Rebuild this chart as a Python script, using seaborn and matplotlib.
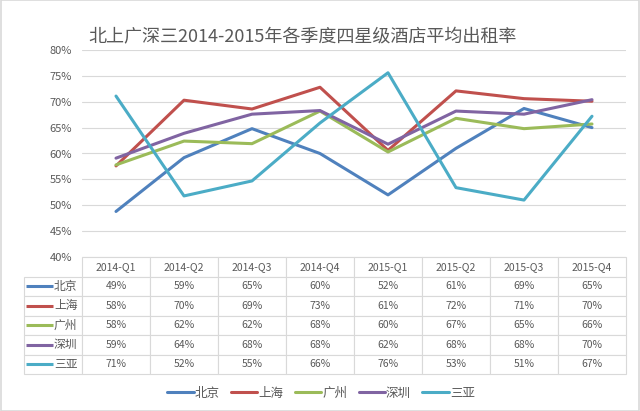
import numpy as np
import pandas as pd
import seaborn as sns
import matplotlib.pyplot as plt
from matplotlib.patches import Rectangle

# data (line positions; table shows rounded values)
quarters = ["2014-Q1", "2014-Q2", "2014-Q3", "2014-Q4", "2015-Q1", "2015-Q2", "2015-Q3", "2015-Q4"]
cities = ["北京", "上海", "广州", "深圳", "三亚"]
beijing = [48.8, 59.2, 64.8, 60.0, 52.0, 61.0, 68.7, 65.0]
shanghai = [57.6, 70.3, 68.6, 72.8, 60.6, 72.1, 70.6, 70.1]
guangzhou = [57.8, 62.4, 61.9, 68.2, 60.3, 66.8, 64.8, 65.7]
shenzhen = [59.1, 63.9, 67.6, 68.3, 61.8, 68.2, 67.6, 70.4]
sanya = [71.1, 51.8, 54.7, 65.9, 75.6, 53.4, 51.0, 67.2]
colors = ["#4F81BD", "#C0504D", "#9BBB59", "#8064A2", "#4BACC6"]

series = [beijing, shanghai, guangzhou, shenzhen, sanya]
df = pd.DataFrame({
    "quarter": np.tile(np.arange(len(quarters)), len(cities)),
    "city": np.repeat(cities, len(quarters)),
    "rate": np.concatenate(series),
})

sns.set_style("white")
plt.rcParams["font.family"] = ["Noto Sans CJK SC", "DejaVu Sans"]
grey = "#595959"
edge = "#d9d9d9"

fig = plt.figure(figsize=(6.4, 4.11), dpi=100)
ax = fig.add_axes([82 / 640, 1 - 257 / 411, 544 / 640, 207 / 411])

sns.lineplot(data=df, x="quarter", y="rate", hue="city", palette=colors,
             linewidth=2.2, ax=ax, legend=True)
handles, labels = ax.get_legend_handles_labels()
ax.get_legend().remove()

ax.set_xlim(-0.5, len(quarters) - 0.5)
ax.set_ylim(40, 80)
ax.set_yticks(range(40, 81, 5))
ax.set_yticklabels([f"{v}%" for v in range(40, 81, 5)], color=grey, fontsize=8)
ax.set_xticks([])
ax.set_xlabel("")
ax.set_ylabel("")
ax.tick_params(axis="y", length=0, pad=7)
ax.grid(axis="y", color=edge, linewidth=0.8)
ax.set_axisbelow(True)
for s in ax.spines.values():
    s.set_visible(False)

# data table under the plot; first column holds the series keys
lab_w = 58 / 544
tab_h = 117 / 207
cell_text = [[""] + [f"{v:.0f}%" for v in s] for s in series]
col_w = [lab_w / (1 + lab_w)] + [1 / len(quarters) / (1 + lab_w)] * len(quarters)
tbl = ax.table(cellText=cell_text, colLabels=[""] + quarters, colWidths=col_w,
               cellLoc="center", bbox=[-lab_w, -tab_h, 1 + lab_w, tab_h])
tbl.auto_set_font_size(False)
tbl.set_fontsize(7.5)
for (r, c), cell in tbl.get_celld().items():
    cell.set_edgecolor(edge)
    cell.set_linewidth(0.8)
    cell.get_text().set_color(grey)
    if r == 0 and c == 0:
        cell.visible_edges = ""

row_h = tab_h / (len(cities) + 1)
for i, (name, col) in enumerate(zip(cities, colors)):
    yc = -(i + 1.5) * row_h
    ax.plot([(26 - 82) / 544, (53 - 82) / 544], [yc, yc], color=col, lw=2.2,
            transform=ax.transAxes, clip_on=False, solid_capstyle="butt")
    ax.text((54 - 82) / 544, yc, name, transform=ax.transAxes, ha="left", va="center",
            fontsize=8.5, color=grey)

fig.text(303 / 640, 1 - 37 / 411, "北上广深三2014-2015年各季度四星级酒店平均出租率",
         fontsize=13, color=grey, ha="center", va="center")

fig.legend(handles, labels, loc="center", bbox_to_anchor=(321 / 640, 1 - 393 / 411),
           ncol=5, frameon=False, fontsize=9, handlelength=2.1, handletextpad=0.1,
           columnspacing=0.9, labelcolor=grey)

fig.patches.append(Rectangle((0.001, 0.001), 0.998, 0.998, transform=fig.transFigure,
                             fill=False, edgecolor=edge, linewidth=1.2))

fig.savefig("out.png", dpi=100)
